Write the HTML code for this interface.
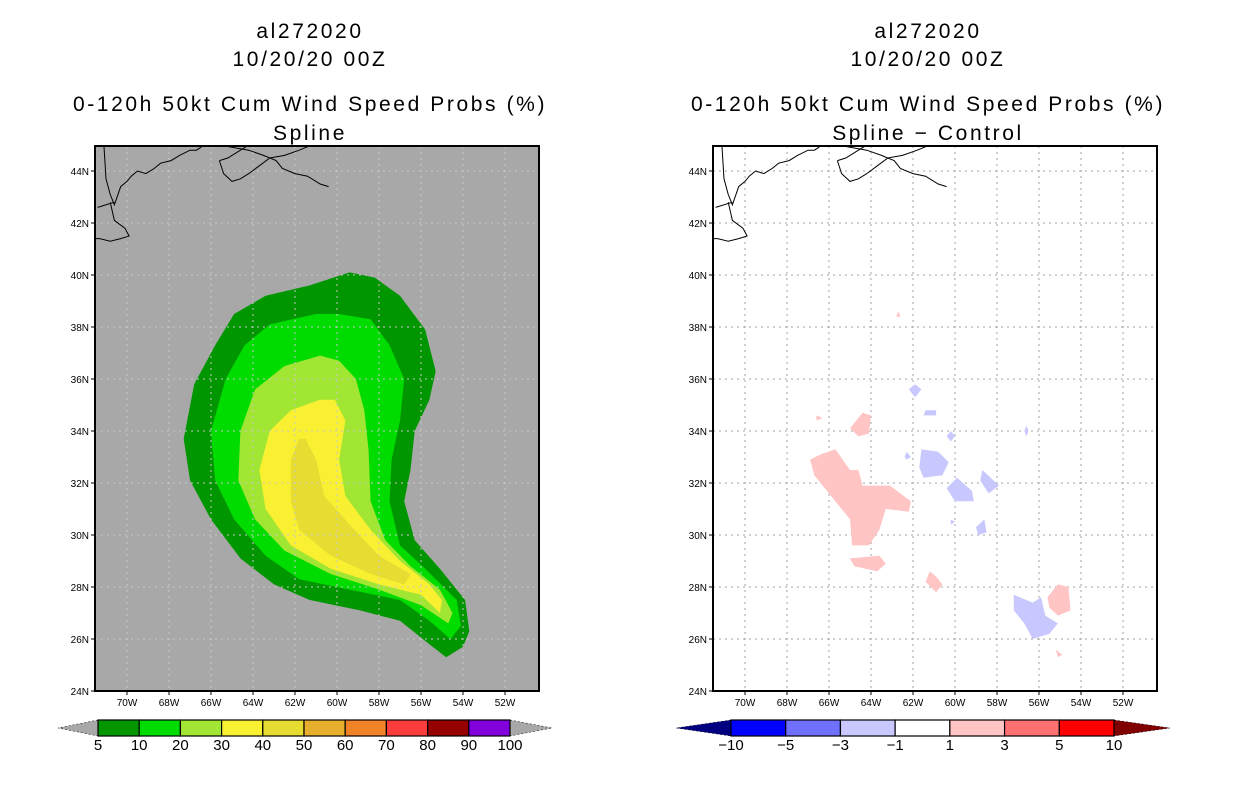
<!DOCTYPE html>
<html><head><meta charset="utf-8"><style>
body{margin:0;background:#fff;width:1236px;height:800px;overflow:hidden}
svg text{font-family:"Liberation Sans",sans-serif}
</style></head><body>
<svg id="chart" width="1236" height="800"></svg>
<script>
// ---- data ----
const probLevels = [5,10,20,30,40,50,60,70,80,90,100];
const probColors = ["#009600","#00dc00","#a0e632","#faf032","#e6dc32","#e6af2d","#f08228","#fa3c3c","#960000","#8200dc"];
const diffLevels = [-10,-5,-3,-1,1,3,5,10];
const diffColors = ["#0000ff","#7070ff","#c8c8ff","#ffffff","#ffc4c4","#ff7070","#ff0000"];
const latTicks = [24,26,28,30,32,34,36,38,40,42,44];
const lonTicks = [70,68,66,64,62,60,58,56,54,52];
// contour polygons [lonW, lat]
const contour5 = [[59.4,40.1],[61.3,39.6],[63.4,39.2],[64.9,38.5],[65.8,37.3],[66.8,35.8],[67.3,33.7],[67.0,32.1],[66.0,30.6],[64.6,29.1],[63.0,28.1],[61.3,27.5],[58.9,27.1],[57.0,26.7],[55.6,25.8],[54.8,25.3],[54.0,25.7],[53.7,26.3],[53.9,27.5],[55.1,28.7],[56.3,29.8],[56.8,31.3],[56.5,32.5],[56.3,34.0],[55.6,35.2],[55.3,36.3],[55.8,37.9],[57.0,39.2],[58.2,39.9]];
const contour10 = [[61.0,38.5],[63.2,38.1],[64.4,37.3],[65.3,36.0],[66.0,34.0],[65.8,32.1],[64.9,30.6],[63.4,29.2],[61.8,28.3],[59.4,27.9],[57.0,27.5],[55.6,26.7],[54.6,26.0],[54.1,26.5],[54.3,27.5],[55.8,28.7],[57.0,29.6],[57.5,31.3],[57.4,32.9],[57.0,34.4],[56.8,36.0],[57.5,37.3],[58.4,38.3],[59.9,38.5]];
const contour20 = [[60.8,36.9],[62.5,36.5],[63.9,35.6],[64.6,34.0],[64.7,32.1],[63.9,30.6],[62.5,29.4],[60.3,28.5],[58.0,27.9],[56.0,27.3],[54.7,26.6],[54.5,27.0],[55.1,27.9],[56.5,28.8],[57.7,29.8],[58.4,31.3],[58.5,33.3],[58.7,34.8],[59.1,36.0],[59.9,36.7]];
const contour30 = [[60.8,35.2],[62.2,34.8],[63.2,34.0],[63.7,32.5],[63.4,31.0],[62.2,29.6],[60.3,28.7],[58.0,28.1],[56.0,27.7],[55.1,27.0],[55.0,27.5],[55.6,28.1],[57.0,29.0],[58.4,30.2],[59.6,31.5],[59.9,32.9],[59.6,34.4],[60.1,35.2]];
const contour40 = [[61.8,33.7],[62.2,32.9],[62.2,31.3],[61.8,30.2],[60.3,29.2],[58.4,28.5],[56.8,28.1],[56.5,28.5],[58.0,29.2],[59.4,30.4],[60.6,31.5],[61.0,32.9],[61.5,33.7]];
const pinkBlobs = [
 [[66.4,33.1],[65.7,33.3],[65.0,32.5],[64.6,32.5],[64.4,31.9],[63.1,31.9],[62.1,31.3],[62.2,30.9],[63.3,31.0],[63.6,30.2],[64.1,29.6],[64.9,29.6],[65.0,30.6],[65.7,31.3],[66.7,32.3],[66.9,32.9]],
 [[64.4,34.7],[64.0,34.6],[64.1,33.9],[64.6,33.8],[65.0,34.1]],
 [[65.0,29.1],[63.6,29.2],[63.3,28.9],[63.7,28.6],[64.8,28.8]],
 [[61.2,28.6],[60.9,28.4],[60.6,28.1],[60.9,27.8],[61.4,28.2]],
 [[55.6,27.6],[55.1,28.1],[54.6,28.0],[54.5,27.1],[55.1,26.9],[55.5,27.2]],
 [[55.2,25.6],[54.9,25.4],[55.1,25.3]],
 [[62.7,38.6],[62.6,38.4],[62.8,38.4]],
 [[66.6,34.6],[66.3,34.5],[66.6,34.4]]];
const blueBlobs = [
 [[61.9,35.8],[61.6,35.6],[61.9,35.3],[62.2,35.6]],
 [[61.4,34.8],[60.9,34.8],[60.9,34.6],[61.5,34.6]],
 [[61.6,33.3],[60.8,33.2],[60.3,32.8],[60.6,32.3],[61.5,32.2],[61.7,32.6]],
 [[59.9,32.2],[59.2,31.7],[59.1,31.3],[60.0,31.3],[60.4,31.8]],
 [[58.7,32.5],[58.3,32.2],[57.9,31.9],[58.4,31.6],[58.8,32.1]],
 [[58.6,30.6],[58.5,30.1],[58.9,30.0],[59.0,30.3]],
 [[57.2,27.7],[57.2,27.1],[56.7,26.6],[56.3,26.0],[55.5,26.2],[55.1,26.6],[55.7,26.9],[55.9,27.6],[56.3,27.4]],
 [[56.6,34.2],[56.5,34.0],[56.6,33.8],[56.7,34.0]],
 [[62.3,33.2],[62.1,33.0],[62.3,32.9],[62.4,33.0]],
 [[60.2,30.6],[60.0,30.5],[60.2,30.4]],
 [[60.2,34.0],[60.0,33.8],[60.2,33.6],[60.4,33.8]]];
// coastlines (lonW,lat)
const coastA = [[71.1,45],[71.0,43.7],[70.8,43.1],[70.6,42.7],[70.3,43.4],[70.0,43.6],[69.8,43.8],[69.5,44.0],[69.1,43.9],[68.7,44.1],[68.4,44.3],[67.9,44.4],[67.5,44.6],[67.0,44.8],[66.7,44.8],[66.5,44.9],[66.4,45]];
const coastB = [[70.6,42.8],[71.4,42.6]];
const capeCod = [[70.8,42.8],[70.6,42.1],[70.1,41.8],[69.9,41.5],[70.3,41.4],[70.8,41.3],[71.3,41.4],[71.5,41.4]];
const novaScotia = [[66.2,45],[65.6,45],[64.9,44.9],[64.2,44.8],[63.5,44.6],[62.9,44.4],[62.6,44.1],[62.0,43.9],[61.4,43.8],[60.8,43.5],[60.4,43.4]];
const novaB = [[65.6,44.4],[65.2,44.5],[64.6,44.8],[64.2,45]];
const novaC = [[65.6,44.4],[65.4,43.9],[65.0,43.6],[64.6,43.7],[64.2,43.9],[63.7,44.2],[63.2,44.5],[62.5,44.6],[61.8,44.8],[61.2,45]];

// ---- drawing ----
const svg = document.getElementById('chart');
const NS = 'http://www.w3.org/2000/svg';
function mk(tag, attrs, parent){const e=document.createElementNS(NS,tag);for(const k in attrs)e.setAttribute(k,attrs[k]);(parent||svg).appendChild(e);return e;}
const PT=146, PB=691, PW=444;
function X(px,lon){return px+32+(70-lon)*21;}
function Y(lat){return 691-(lat-24)*26;}
function pts(px,arr){return arr.map(p=>X(px,p[0]).toFixed(1)+','+Y(p[1]).toFixed(1)).join(' ');}

function titles(cx, l4, prefix){
  const t=[ 'al272020','10/20/20 00Z','0-120h 50kt Cum Wind Speed Probs (%)', l4];
  const ys=[38,66,111,140];
  t.forEach((s,i)=>{const e=mk('text',{x:cx,y:ys[i],'text-anchor':'middle','font-size':21,fill:'#000','letter-spacing':'2.6'});e.textContent=s;
    
    });
}

function panel(px, bg, gridCol, prefix){
  const g=mk('g',{});
  
  
  mk('rect',{x:px,y:PT,width:PW,height:PB-PT,fill:bg},g);
  const clip=mk('clipPath',{id:'clip'+px},g);
  mk('rect',{x:px,y:PT,width:PW,height:PB-PT},clip);
  const inner=mk('g',{'clip-path':'url(#clip'+px+')'},g);
  return {g,inner};
}
function grid(px,inner,col,prefix){
  lonTicks.forEach(l=>{const e=mk('line',{x1:X(px,l),x2:X(px,l),y1:PT,y2:PB,stroke:col,'stroke-width':1,'stroke-dasharray':'2,4'},inner);
    
    });
  latTicks.forEach(l=>{const e=mk('line',{x1:px,x2:px+PW,y1:Y(l),y2:Y(l),stroke:col,'stroke-width':1,'stroke-dasharray':'2,4'},inner);
    
    });
}
function coasts(px,inner,prefix){
  [coastA,coastB,capeCod,novaScotia,novaB,novaC].forEach(c=>{const e=mk('polyline',{points:pts(px,c),fill:'none',stroke:'#000','stroke-width':1},inner);
    
    });
}
function axes(px,g,prefix){
  const f=mk('rect',{x:px,y:PT,width:PW,height:PB-PT,fill:'none',stroke:'#000','stroke-width':2},g);
  
  
  latTicks.forEach(l=>{mk('line',{x1:px-4,x2:px,y1:Y(l),y2:Y(l),stroke:'#000'},g);
    const t=mk('text',{x:px-6,y:Y(l)+4,'text-anchor':'end','font-size':10},g);t.textContent=l+'N';
    
    });
  lonTicks.forEach(l=>{mk('line',{x1:X(px,l),x2:X(px,l),y1:PB,y2:PB+4,stroke:'#000'},g);
    const t=mk('text',{x:X(px,l),y:PB+15,'text-anchor':'middle','font-size':10},g);t.textContent=l+'W';
    
    });
}
function colorbar(x0,x1,y,levels,colors,triL,triR,tipL,tipR,prefix){
  const g=mk('g',{});
  
  
  const n=colors.length, w=(x1-x0)/n, h=16;
  mk('polygon',{points:`${x0},${y} ${tipL},${y+h/2} ${x0},${y+h}`,fill:triL,stroke:'#000','stroke-width':0.5,'stroke-dasharray':'2,2'},g);
  mk('polygon',{points:`${x1},${y} ${tipR},${y+h/2} ${x1},${y+h}`,fill:triR,stroke:'#000','stroke-width':0.5,'stroke-dasharray':'2,2'},g);
  colors.forEach((c,i)=>{const r=mk('rect',{x:x0+i*w,y:y,width:w,height:h,fill:c,stroke:'#000','stroke-width':1.2},g);
    
    });
  levels.forEach((lv,i)=>{const t=mk('text',{x:x0+i*w,y:y+h+14,'text-anchor':'middle','font-size':15},g);
    t.textContent=String(lv).replace('-','\u2212');
    
    });
}

// Left panel
titles(310,'Spline','left');
let L=panel(95,'#a8a8a8','#d0d0d0','left-spline');
[contour5,contour10,contour20,contour30,contour40].forEach((c,i)=>{
  const e=mk('polygon',{points:pts(95,c),fill:probColors[i]},L.inner);
  
  
});
grid(95,L.inner,'#c8c8c8','left');
coasts(95,L.inner,'left');
axes(95,L.g,'left');
colorbar(98,510,720,probLevels,probColors,'#a8a8a8','#a8a8a8',58,552,'left');

// Right panel
titles(928,'Spline \u2212 Control','right');
let R=panel(713,'#ffffff','#999','right-diff');
grid(713,R.inner,'#a0a0a0','right');
pinkBlobs.forEach(b=>{const e=mk('polygon',{points:pts(713,b),fill:'#ffc4c4'},R.inner);
  
  });
blueBlobs.forEach(b=>{const e=mk('polygon',{points:pts(713,b),fill:'#c8c8ff'},R.inner);
  
  });
coasts(713,R.inner,'right');
axes(713,R.g,'right');
colorbar(731,1114,720,diffLevels,diffColors,'#000080','#800000',676,1170,'right');
</script>
</body></html>
